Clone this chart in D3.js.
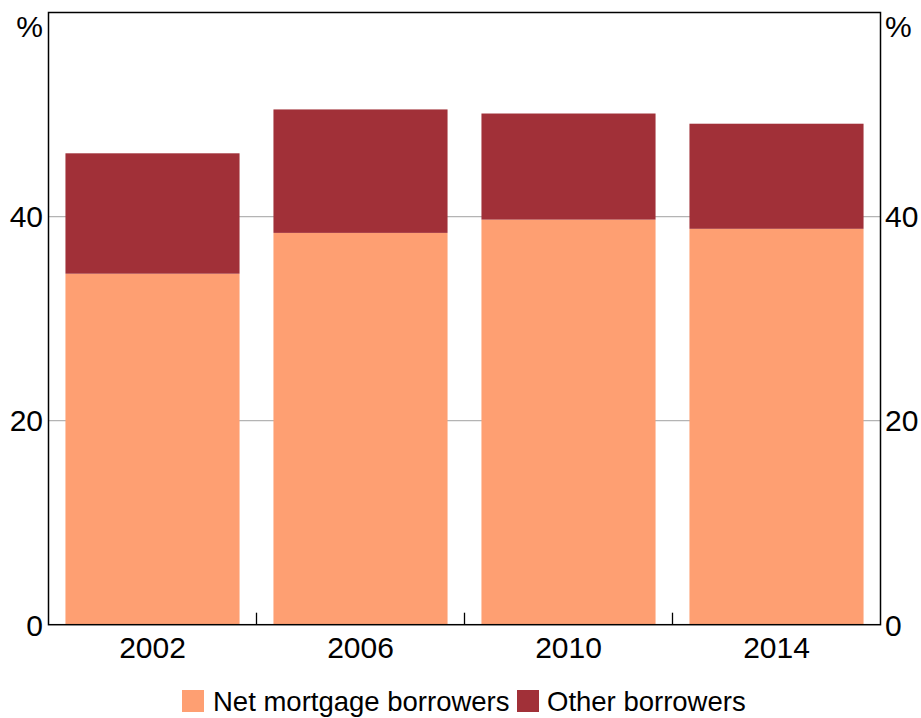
<!DOCTYPE html>
<html><head><meta charset="utf-8">
<script src="https://cdn.jsdelivr.net/npm/d3@7"></script>
<style>body{margin:0;background:#fff}svg{display:block}text{font-family:"Liberation Sans",Arial,sans-serif;fill:#000}</style>
</head><body><svg id="c" width="921" height="718"></svg>
<script>
const years = ["2002","2006","2010","2014"];
const netMortgage = [34.4, 38.4, 39.7, 38.8];
const otherBorrowers = [11.8, 12.1, 10.4, 10.3];
const seriesNames = ["Net mortgage borrowers","Other borrowers"];
const seriesColors = ["#FE9F72","#A13038"];
const yTicks = [0,20,40];

const svg = d3.select("#c");
const L=48.5, R=880.5, T=12.5, B=624.7;
const x = d3.scaleBand().domain(years).range([L,R]).paddingInner(0.163).paddingOuter(0.0815);
const y = d3.scaleLinear().domain([0,60]).range([B,T]);

// gridlines
svg.append("g").selectAll("line").data(yTicks.filter(d=>d>0)).join("line")
  .attr("x1",L).attr("x2",R).attr("y1",d=>y(d)).attr("y2",d=>y(d))
  .attr("stroke","#b4b4b4").attr("stroke-width",1.3);

const rows = years.map((yr,i)=>({year:yr, net:netMortgage[i], other:otherBorrowers[i]}));
const stack = d3.stack().keys(["net","other"])(rows);
svg.append("g").selectAll("g").data(stack).join("g").attr("fill",(d,i)=>seriesColors[i])
  .selectAll("rect").data(d=>d).join("rect")
  .attr("x",d=>x(d.data.year)).attr("width",x.bandwidth())
  .attr("y",d=>y(d[1])).attr("height",d=>y(d[0])-y(d[1]));

// frame
svg.append("rect").attr("x",L).attr("y",T).attr("width",R-L).attr("height",B-T)
  .attr("fill","none").attr("stroke","#000").attr("stroke-width",1.5);

// x ticks between categories
const step = x.step();
const bounds = years.slice(1).map(yr=>x(yr) - x.paddingInner()*step/2);
svg.append("g").selectAll("line").data(bounds).join("line")
  .attr("x1",d=>d).attr("x2",d=>d).attr("y1",B).attr("y2",B-12)
  .attr("stroke","#000").attr("stroke-width",1.3);

// x labels
svg.append("g").selectAll("text").data(years).join("text")
  .attr("x",d=>x(d)+x.bandwidth()/2).attr("y",658).attr("text-anchor","middle")
  .attr("font-size",30).text(d=>d);

// y labels
const yl = svg.append("g");
yl.selectAll("text.l").data(yTicks).join("text").attr("class","l")
  .attr("x",43).attr("y",d=>y(d)).attr("dy","0.36em").attr("text-anchor","end")
  .attr("font-size",30).text(d=>d);
yl.selectAll("text.r").data(yTicks).join("text").attr("class","r")
  .attr("x",885).attr("y",d=>y(d)).attr("dy","0.36em").attr("text-anchor","start")
  .attr("font-size",30).text(d=>d);
svg.append("text").attr("x",43).attr("y",37).attr("text-anchor","end").attr("font-size",30).text("%");
svg.append("text").attr("x",885).attr("y",37).attr("text-anchor","start").attr("font-size",30).text("%");

// legend
const leg = [{x:182, tx:213},{x:517, tx:547}];
seriesNames.forEach((n,i)=>{
  svg.append("rect").attr("x",leg[i].x).attr("y",690).attr("width",22).attr("height",22).attr("fill",seriesColors[i]);
  svg.append("text").attr("x",leg[i].tx).attr("y",711).attr("font-size",27.5).text(n);
});
</script></body></html>
